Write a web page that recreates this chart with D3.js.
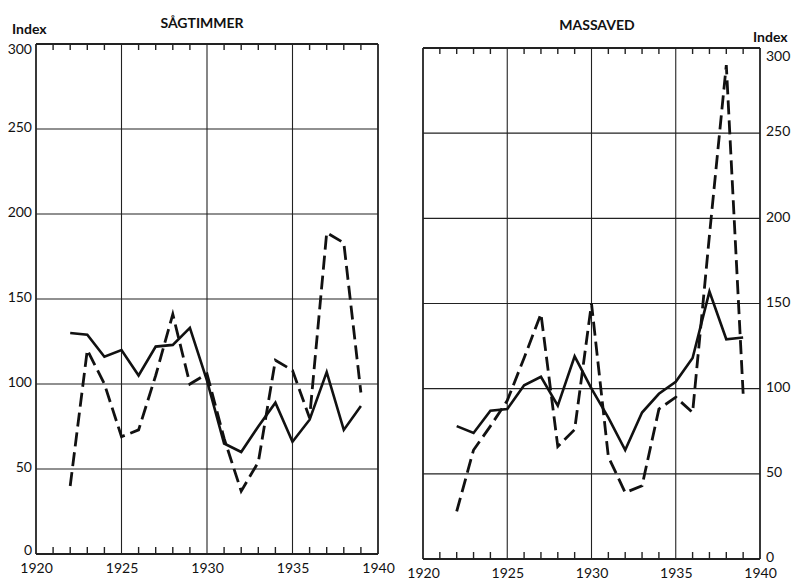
<!DOCTYPE html>
<html>
<head>
<meta charset="utf-8">
<script src="https://cdn.jsdelivr.net/npm/d3@7"></script>
<style>
  html, body { margin: 0; padding: 0; background: #fff; }
  svg { display: block; }
  text { font-family: Lato, "Open Sans", sans-serif; fill: #111; }
</style>
</head>
<body>
<svg id="chart" width="793" height="584"></svg>
<script>
// Years shown on the x axis and the index ticks on the y axis
const years = d3.range(1922, 1940);            // 1922 … 1939
const yearTicks = [1920, 1925, 1930, 1935, 1940];
const indexTicks = [0, 50, 100, 150, 200, 250, 300];

// Sågtimmer (saw logs): solid and dashed index series
const sagSolid  = [130, 129, 116, 120, 105, 122, 123, 133, 102, 65, 60, 75, 89, 66, 79, 107, 73, 87];
const sagDashed = [40, 120, 100, 69, 73, 105, 141, 100, 106, 68, 37, 54, 114, 108, 80, 189, 183, 95];

// Massaved (pulpwood): solid and dashed index series
const masSolid  = [78, 74, 87, 88, 102, 107, 90, 119, 100, 83, 64, 86, 97, 104, 118, 157, 129, 130];
const masDashed = [28, 64, 78, 93, 118, 144, 66, 76, 150, 60, 39, 43, 88, 95, 86, 190, 290, 97];

const svg = d3.select("#chart");

function panel(opts) {
  const x = d3.scaleLinear().domain([1920, 1940]).range([opts.x0, opts.x1]);
  const y = d3.scaleLinear().domain([0, 300]).range([opts.y0, opts.y1]);
  const g = svg.append("g");

  // horizontal grid lines
  g.selectAll("line.h").data(indexTicks).join("line")
    .attr("x1", x(1920)).attr("x2", x(1940))
    .attr("y1", d => y(d)).attr("y2", d => y(d))
    .attr("stroke", "#222")
    .attr("stroke-width", d => (d === 0 || d === 300) ? 1.8 : 1.1);

  // vertical grid lines every five years
  g.selectAll("line.v").data(yearTicks).join("line")
    .attr("x1", d => x(d)).attr("x2", d => x(d))
    .attr("y1", y(0)).attr("y2", y(300))
    .attr("stroke", "#222")
    .attr("stroke-width", d => (d === 1920 || d === 1940) ? 1.8 : 1.1);

  // yearly minor ticks along top and bottom borders
  const minor = d3.range(1921, 1940).filter(v => v % 5 !== 0);
  g.selectAll("line.tt").data(minor).join("line")
    .attr("x1", d => x(d)).attr("x2", d => x(d))
    .attr("y1", y(300)).attr("y2", y(300) + 6)
    .attr("stroke", "#222").attr("stroke-width", 1.4);
  g.selectAll("line.tb").data(minor).join("line")
    .attr("x1", d => x(d)).attr("x2", d => x(d))
    .attr("y1", y(0)).attr("y2", y(0) - 7)
    .attr("stroke", "#222").attr("stroke-width", 1.4);

  // x axis labels
  const xAxis = d3.axisBottom(x).tickValues(yearTicks).tickSize(0).tickPadding(0).tickFormat(d3.format("d"));
  const xg = g.append("g").attr("transform", `translate(0,${y(0) + 9})`).call(xAxis);
  xg.select(".domain").remove();
  xg.selectAll("text").attr("font-size", 14).attr("dy", "0.71em")
    .style("font-family", "Lato, sans-serif").attr("fill", "#111");

  // y axis labels; the label at the top sits just below the border
  const yAxis = (opts.side === "left" ? d3.axisLeft(y) : d3.axisRight(y))
    .tickValues(indexTicks).tickSize(0).tickPadding(0);
  const yg = g.append("g")
    .attr("transform", `translate(${opts.side === "left" ? x(1920) - 4 : x(1940) + 6},0)`)
    .call(yAxis);
  yg.select(".domain").remove();
  yg.selectAll("text").attr("font-size", 14)
    .style("font-family", "Lato, sans-serif").attr("fill", "#111")
    .attr("dy", d => d === 300 ? (opts.side === "right" ? "0.9em" : "0.7em")
                    : d === 0 && opts.side === "left" ? "0" : "0.2em");

  // series lines
  const line = d3.line().x((d, i) => x(years[i])).y(d => y(d));
  g.append("path").datum(opts.solid)
    .attr("d", line).attr("fill", "none")
    .attr("stroke", "#111").attr("stroke-width", 2.6)
    .attr("stroke-linejoin", "miter");
  g.append("path").datum(opts.dashed)
    .attr("d", line).attr("fill", "none")
    .attr("stroke", "#111").attr("stroke-width", 2.8)
    .attr("stroke-dasharray", "14,6")
    .attr("stroke-linejoin", "miter");

  // title and unit label
  g.append("text").attr("x", opts.titleX).attr("y", opts.titleY)
    .attr("text-anchor", "middle").attr("font-size", 14).attr("font-weight", "bold")
    .text(opts.title);
  g.append("text").attr("x", opts.unitX).attr("y", opts.unitY)
    .attr("text-anchor", "start").attr("font-size", 14).attr("font-weight", "bold")
    .text("Index");
}

panel({
  x0: 36, x1: 378, y0: 554, y1: 44, side: "left",
  solid: sagSolid, dashed: sagDashed,
  title: "SÅGTIMMER", titleX: 202, titleY: 28,
  unitX: 12, unitY: 34
});

panel({
  x0: 423, x1: 760, y0: 559, y1: 48, side: "right",
  solid: masSolid, dashed: masDashed,
  title: "MASSAVED", titleX: 597, titleY: 30,
  unitX: 753, unitY: 42
});
</script>
</body>
</html>
